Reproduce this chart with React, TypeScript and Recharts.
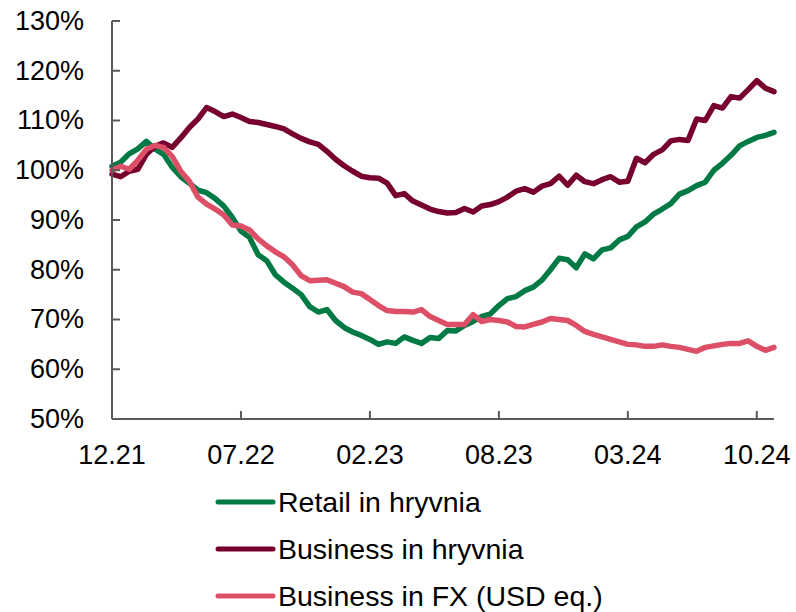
import { LineChart, Line, XAxis, YAxis } from "recharts";

// Loan portfolio index (start = 100%), one point roughly every two weeks
const period = Array.from({ length: 78 }, (_, i) => i);

const retailUah = [
  100.8, 101.6, 103.3, 104.3, 105.8, 104.3, 103.2, 100.6, 98.7, 97.4,
  96.0, 95.5, 94.3, 92.8, 90.5, 87.8, 86.5, 83.0, 81.8, 79.0,
  77.5, 76.3, 75.0, 72.6, 71.5, 72.0, 69.8, 68.4, 67.5, 66.8,
  66.0, 65.0, 65.5, 65.2, 66.5, 65.8, 65.2, 66.4, 66.2, 67.8,
  67.7, 68.8, 69.6, 70.6, 71.1, 72.8, 74.2, 74.6, 75.8, 76.5,
  77.9, 80.0, 82.3, 82.0, 80.4, 83.2, 82.2, 84.0, 84.4, 86.0,
  86.7, 88.6, 89.6, 91.2, 92.2, 93.3, 95.2, 95.9, 96.9, 97.6,
  100.0, 101.4, 103.0, 104.9, 105.8, 106.6, 107.0, 107.6,
];

const businessUah = [
  99.2, 98.7, 99.8, 100.2, 103.2, 104.8, 105.5, 104.6, 106.5, 108.6,
  110.3, 112.6, 111.8, 110.8, 111.3, 110.6, 109.8, 109.6, 109.2, 108.8,
  108.3, 107.3, 106.4, 105.7, 105.2, 103.8, 102.2, 100.9, 99.8, 98.8,
  98.5, 98.4, 97.4, 94.9, 95.3, 93.8, 93.0, 92.2, 91.7, 91.4,
  91.5, 92.3, 91.6, 92.8, 93.1, 93.7, 94.6, 95.8, 96.3, 95.6,
  96.8, 97.3, 98.8, 97.0, 99.0, 97.7, 97.3, 98.1, 98.7, 97.6,
  97.8, 102.4, 101.5, 103.2, 104.1, 105.9, 106.2, 106.0, 110.3, 110.0,
  113.0, 112.5, 114.8, 114.5, 116.2, 118.0, 116.5, 115.8,
];

const businessFx = [
  100.0, 100.8, 100.2, 102.0, 104.2, 105.0, 104.6, 102.8, 99.8, 97.8,
  94.6, 93.2, 92.2, 91.0, 89.0, 88.8, 88.0, 86.2, 84.8, 83.6,
  82.6, 81.0, 78.8, 77.8, 77.9, 78.0, 77.3, 76.6, 75.5, 75.2,
  74.0, 72.8, 71.8, 71.6, 71.6, 71.5, 72.0, 70.6, 69.8, 69.0,
  69.0, 69.0, 71.0, 69.6, 70.0, 69.8, 69.5, 68.6, 68.5, 69.0,
  69.5, 70.2, 70.0, 69.8, 68.8, 67.6, 67.0, 66.5, 66.0, 65.5,
  65.0, 64.9, 64.6, 64.6, 64.9, 64.6, 64.4, 64.0, 63.6, 64.4,
  64.7, 65.0, 65.2, 65.2, 65.7, 64.6, 63.8, 64.4,
];

const xTickIndex = [0, 15, 30, 45, 60, 75];
const xTickLabels = ["12.21", "07.22", "02.23", "08.23", "03.24", "10.24"];
const yTicks = [50, 60, 70, 80, 90, 100, 110, 120, 130];

const series = [
  { key: "retail", name: "Retail in hryvnia", color: "#007A45" },
  { key: "business", name: "Business in hryvnia", color: "#77002F" },
  { key: "fx", name: "Business in FX (USD eq.)", color: "#DC4F67" },
];

const rows = period.map((p, i) => ({
  p,
  retail: retailUah[i],
  business: businessUah[i],
  fx: businessFx[i],
}));

const FONT = '"Liberation Sans", Arial, sans-serif';
const AXIS = "#595959";
const TICK_LEN = 8;

function XTick(props: any) {
  const { x, y, payload } = props;
  const label = xTickLabels[xTickIndex.indexOf(payload.value)];
  return (
    <g>
      <line x1={x} x2={x} y1={y} y2={y - TICK_LEN} stroke={AXIS} strokeWidth={2} />
      <text x={x} y={y + 45} textAnchor="middle" fontSize={27} fontFamily={FONT} fill="#000">
        {label}
      </text>
    </g>
  );
}

function YTick(props: any) {
  const { x, y, payload } = props;
  const axisX = x + 28;
  return (
    <g>
      <line x1={axisX} x2={axisX + TICK_LEN} y1={y} y2={y} stroke={AXIS} strokeWidth={2} />
      <text x={x} y={y} dy="0.33em" textAnchor="end" fontSize={27} fontFamily={FONT} fill="#000">
        {payload.value}%
      </text>
    </g>
  );
}

export default function App() {
  return (
    <div style={{ position: "absolute", left: 0, top: 0, width: 796, height: 612, background: "#fff" }}>
      <LineChart
        width={796}
        height={612}
        data={rows}
        margin={{ top: 21, right: 22, bottom: 143, left: 0 }}
      >
        <XAxis
          dataKey="p"
          type="number"
          domain={[0, 77]}
          ticks={xTickIndex}
          interval={0}
          height={50}
          tickSize={0}
          tickMargin={0}
          tick={XTick}
          axisLine={{ stroke: AXIS, strokeWidth: 2 }}
        />
        <YAxis
          type="number"
          domain={[50, 130]}
          ticks={yTicks}
          interval={0}
          width={112}
          tickSize={0}
          tickMargin={28}
          tick={YTick}
          axisLine={{ stroke: AXIS, strokeWidth: 2 }}
        />
        {series.map((s) => (
          <Line
            key={s.key}
            dataKey={s.key}
            name={s.name}
            type="linear"
            stroke={s.color}
            strokeWidth={5.5}
            strokeLinejoin="round"
            strokeLinecap="round"
            dot={false}
            activeDot={false}
            isAnimationActive={false}
          />
        ))}
      </LineChart>
      {/* legend below the plot, one row per series */}
      <svg
        width={796}
        height={142}
        style={{ position: "absolute", left: 0, top: 470 }}
      >
        {series.map((s, k) => {
          const cy = 32 + k * 47;
          return (
            <g key={s.key}>
              <line x1={218} x2={273} y1={cy} y2={cy} stroke={s.color} strokeWidth={5} strokeLinecap="round" />
              <text x={278} y={cy + 9.5} fontSize={28.5} fontFamily={FONT} fill="#000">
                {s.name}
              </text>
            </g>
          );
        })}
      </svg>
    </div>
  );
}
